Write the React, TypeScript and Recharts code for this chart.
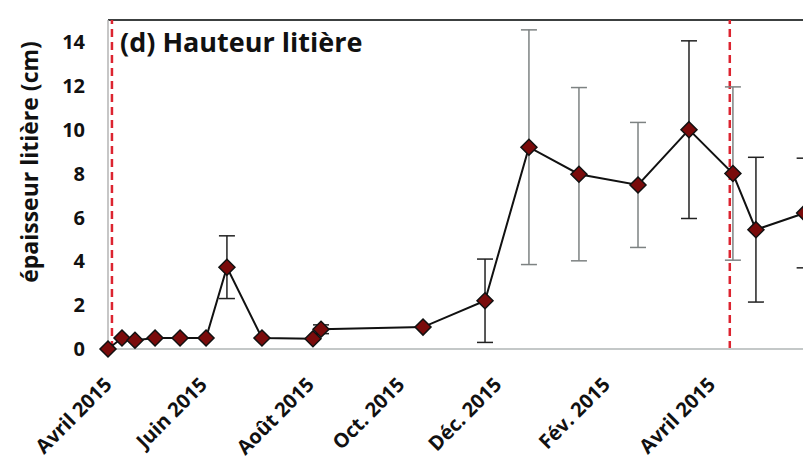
import * as React from 'react';
import {
  LineChart,
  Line,
  XAxis,
  YAxis,
  ErrorBar,
  ReferenceLine,
} from 'recharts';

// days counted from the first survey (April 2015)
const days = [0, 8.5, 16.4, 28.6, 43.8, 59.6, 72.3, 93.6, 124.6, 129.5, 191.5, 229.2, 255.9, 286.3, 322.2, 353.2, 379.9, 393.9, 423.5];
const heights = [0, 0.5, 0.4, 0.5, 0.5, 0.5, 3.73, 0.5, 0.47, 0.9, 1.0, 2.2, 9.2, 7.97, 7.48, 10.0, 8.0, 5.44, 6.2];
const errDark = [0, 0, 0, 0, 0, 0, 1.43, 0, 0, 0.2, 0, 1.9, 0, 0, 0, 4.05, 0, 3.3, 2.5];
const errGray = [0, 0, 0, 0, 0, 0, 0, 0, 0, 0, 0, 0, 5.35, 3.95, 2.85, 0, 3.95, 0, 0];

const tickDays = [0, 58, 123, 178, 237, 303, 367];
const tickLabels = ['Avril 2015', 'Juin 2015', 'Août 2015', 'Oct. 2015', 'Déc. 2015', 'Fév. 2015', 'Avril 2015'];
const yTicks = [0, 2, 4, 6, 8, 10, 12, 14];
const markerDays = [2.4, 378];

const data = days.map((d, i) => ({
  day: d,
  h: heights[i],
  errDark: errDark[i],
  errGray: errGray[i],
}));

const FONT = '"Open Sans", Lato, sans-serif';

const Diamond = (props: any) => {
  const { cx, cy } = props;
  if (cx == null || cy == null) return null;
  const r = 8;
  return (
    <polygon
      points={`${cx},${cy - r} ${cx + r},${cy} ${cx},${cy + r} ${cx - r},${cy}`}
      fill="#7a0b0b"
      stroke="#111"
      strokeWidth={1.5}
    />
  );
};

const XTick = (props: any) => {
  const { x, y, payload } = props;
  const i = tickDays.indexOf(payload.value);
  const tx = x + 5;
  const ty = y + 37;
  return (
    <text
      x={tx}
      y={ty}
      textAnchor="end"
      fill="#111"
      fontSize={20}
      fontWeight={700}
      fontFamily={FONT}
      transform={`rotate(-45, ${tx}, ${ty})`}
    >
      {tickLabels[i]}
    </text>
  );
};

export default function App() {
  return (
    <div
      style={{
        position: 'fixed',
        left: 0,
        top: 0,
        width: 803,
        height: 465,
        overflow: 'hidden',
        background: '#fff',
      }}
    >
      <LineChart
        width={840}
        height={465}
        data={data}
        margin={{ top: 20, right: 0, left: 0, bottom: 0 }}
      >
        <XAxis
          type="number"
          dataKey="day"
          domain={[0, 445]}
          ticks={tickDays}
          tick={XTick}
          tickLine={false}
          tickSize={0}
          tickMargin={0}
          height={116}
          axisLine={{ stroke: '#c4c8c8', strokeWidth: 2 }}
          interval={0}
        />
        <YAxis
          type="number"
          domain={[0, 15]}
          ticks={yTicks}
          width={108}
          tickLine={false}
          tickSize={0}
          tickMargin={23}
          axisLine={{ stroke: '#b4b4b4', strokeWidth: 1.5 }}
          tick={{ fontSize: 20, fontWeight: 700, fill: '#111', fontFamily: FONT }}
        />
        <ReferenceLine y={15} stroke="#3c4040" strokeWidth={2} />
        {markerDays.map((d) => (
          <ReferenceLine
            key={d}
            x={d}
            stroke="#dc2430"
            strokeWidth={2.5}
            strokeDasharray="8 5"
          />
        ))}
        <Line
          type="linear"
          dataKey="h"
          stroke="#111"
          strokeWidth={2}
          dot={Diamond}
          activeDot={false}
          isAnimationActive={false}
        >
          <ErrorBar dataKey="errGray" width={8} stroke="#7d8282" strokeWidth={1.5} direction="y" />
          <ErrorBar dataKey="errDark" width={8} stroke="#222" strokeWidth={1.5} direction="y" />
        </Line>
      </LineChart>
      <svg
        width={803}
        height={465}
        style={{ position: 'absolute', left: 0, top: 0, pointerEvents: 'none' }}
      >
        <text x={120} y={52} fontSize={27} fontWeight={700} fill="#111" fontFamily={FONT}>
          (d) Hauteur litière
        </text>
        <text
          x={29}
          y={162}
          fontSize={23}
          fontWeight={700}
          fill="#111"
          fontFamily={FONT}
          textAnchor="middle"
          dominantBaseline="central"
          transform="rotate(-90, 29, 162)"
        >
          épaisseur litière (cm)
        </text>
      </svg>
    </div>
  );
}
